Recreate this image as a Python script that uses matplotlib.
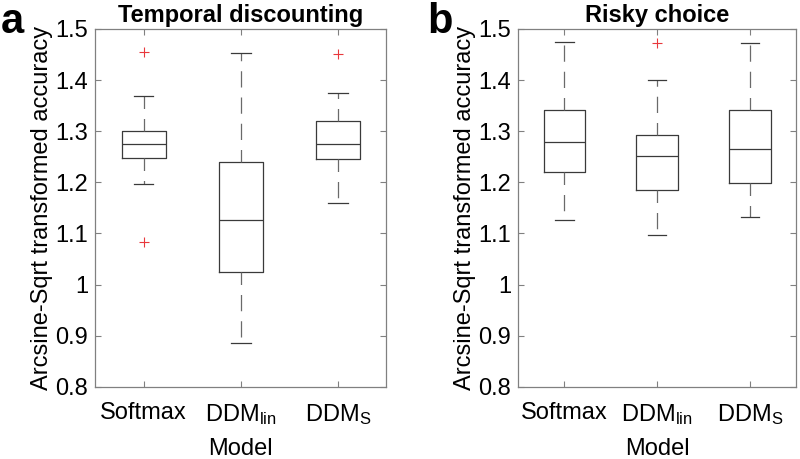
import numpy as np
import matplotlib
matplotlib.use('Agg')
import matplotlib.pyplot as plt

plt.rcParams['font.family'] = ['Liberation Sans', 'DejaVu Sans']
plt.rcParams['mathtext.default'] = 'regular'

models = ['Softmax', 'DDM$_{lin}$', 'DDM$_{S}$']

# temporal discounting (panel a)
td_med = [1.275, 1.127, 1.275]
td_q1 = [1.248, 1.025, 1.246]
td_q3 = [1.300, 1.239, 1.320]
td_lo = [1.196, 0.885, 1.159]
td_hi = [1.369, 1.452, 1.375]
td_fliers = [[1.454, 1.083], [], [1.451]]

# risky choice (panel b)
rc_med = [1.278, 1.251, 1.266]
rc_q1 = [1.220, 1.185, 1.199]
rc_q3 = [1.342, 1.292, 1.341]
rc_lo = [1.127, 1.097, 1.133]
rc_hi = [1.475, 1.401, 1.473]
rc_fliers = [[], [1.473], []]


def make_stats(med, q1, q3, lo, hi, fliers):
    stats = []
    for i in range(len(med)):
        stats.append({'med': med[i], 'q1': q1[i], 'q3': q3[i],
                      'whislo': lo[i], 'whishi': hi[i],
                      'fliers': fliers[i]})
    return stats


def draw_panel(ax, stats, title, letter):
    ax.bxp(stats, positions=[1, 2, 3], widths=0.45, capwidths=0.2,
           boxprops=dict(color='#3a3a3a', lw=0.9),
           medianprops=dict(color='#3a3a3a', lw=0.9),
           whiskerprops=dict(color='#6a6a6a', lw=0.9, ls=(3, (13, 8))),
           capprops=dict(color='#3a3a3a', lw=0.9),
           flierprops=dict(marker='+', markeredgecolor='#e8383d',
                           markersize=7, markeredgewidth=0.8, ls='none'))
    ax.set_xlim(0.5, 3.5)
    ax.set_ylim(0.8, 1.5)
    ax.set_yticks(np.arange(0.8, 1.51, 0.1))
    ax.set_yticklabels(['0.8', '0.9', '1', '1.1', '1.2', '1.3', '1.4', '1.5'])
    ax.set_xticks([1, 2, 3])
    ax.set_xticklabels(models)
    ax.tick_params(direction='in', top=True, right=True, labelsize=17,
                   color='#808080', length=4)
    ax.tick_params(axis='x', pad=11)
    ax.tick_params(axis='y', pad=5)
    for s in ax.spines.values():
        s.set_color('#808080')
        s.set_linewidth(0.9)
    ax.set_ylabel('Arcsine-Sqrt transformed accuracy', fontsize=17, labelpad=2)
    ax.set_xlabel('Model', fontsize=17, labelpad=8)
    ax.set_title(title, fontsize=17, fontweight='bold', pad=5)
    ax.text(-0.325, 1.02, letter, transform=ax.transAxes, fontsize=30,
            fontweight='bold', va='center', ha='left')


fig = plt.figure(figsize=(8, 4.59), dpi=100)
ax1 = fig.add_axes([0.119, 0.157, 0.364, 0.78])
ax2 = fig.add_axes([0.6475, 0.157, 0.348, 0.78])

draw_panel(ax1, make_stats(td_med, td_q1, td_q3, td_lo, td_hi, td_fliers),
           'Temporal discounting', 'a')
draw_panel(ax2, make_stats(rc_med, rc_q1, rc_q3, rc_lo, rc_hi, rc_fliers),
           'Risky choice', 'b')

fig.savefig('out.png', dpi=100)
